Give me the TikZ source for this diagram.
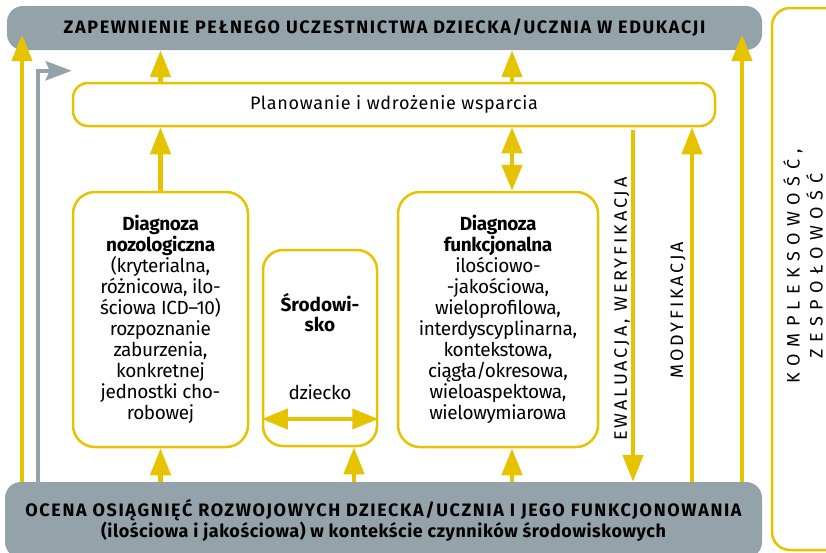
\documentclass[tikz,border=0pt]{standalone}
\usepackage{fontspec}
\setmainfont{Fira Sans}
\usepackage{tikz}
\usetikzlibrary{arrows.meta,calc,positioning}
\definecolor{zolty}{HTML}{E6C300}
\definecolor{szary}{HTML}{94A2AA}
\tikzset{
  pasek/.style={fill=szary, rounded corners=16pt, inner sep=0pt, align=center,
    font=\addfontfeature{LetterSpace=9}\fontsize{18}{21}\selectfont\bfseries},
  ramka/.style={draw=zolty, line width=2.5pt, rounded corners=22pt, inner sep=0pt,
    align=center, font=\addfontfeature{LetterSpace=-2}\fontsize{19}{21}\selectfont},
  opis/.style={rotate=90, inner sep=0pt, align=center,
    font=\addfontfeature{LetterSpace=16}\fontsize{18}{23}\selectfont},
  strz/.style={draw=zolty, line width=4.5pt, -{Triangle[width=20pt,length=27pt]}},
  dwustr/.style={draw=zolty, line width=4.5pt,
    {Triangle[width=20pt,length=26pt]}-{Triangle[width=20pt,length=26pt]}},
  szarastr/.style={draw=szary, line width=4.5pt,
    -{Stealth[width=19pt,length=26pt,inset=4pt]}}
}
\begin{document}
\begin{tikzpicture}[x=1pt,y=-1pt]
\useasboundingbox (0,0) rectangle (826,552);
% x-positions of the vertical arrows
\coordinate (xl) at (22,0);   % yellow, far left
\coordinate (xs) at (38,0);   % gray, far left
\coordinate (xsr) at (354,0); % into the middle box
\coordinate (xf) at (512,0);  % functional diagnosis
\coordinate (xm) at (692,0);  % modification
\coordinate (xp) at (742,0);  % yellow, far right
\coordinate (ew) at (633,130); % start of the evaluation line
% bars:
\node[pasek, minimum width=755pt, minimum height=44pt] (zap) at (384.5,28)
  {ZAPEWNIENIE PEŁNEGO UCZESTNICTWA DZIECKA/UCZNIA W EDUKACJI};
\node[pasek, minimum width=757pt, minimum height=76pt] (ocena) at (383.5,520)
  {OCENA OSIĄGNIĘĆ ROZWOJOWYCH DZIECKA/UCZNIA I JEGO FUNKCJONOWANIA\\
   \addfontfeature{LetterSpace=3}(ilościowa i jakościowa) w kontekście czynników środowiskowych};
% boxes:
\node[ramka, rounded corners=15pt, minimum width=642pt, minimum height=43pt,
  font=\addfontfeature{LetterSpace=4}\fontsize{18}{21}\selectfont] (plan)
  at (394,104.5) {Planowanie i wdrożenie wsparcia};
\node[ramka, minimum width=175pt, minimum height=255pt] (noz) at (160.5,319.5)
  {\textbf{Diagnoza}\\ \textbf{nozologiczna}\\ (kryterialna,\\ różnicowa, ilo-\\
   ściowa ICD–10)\\ rozpoznanie\\ zaburzenia,\\ konkretnej\\ jednostki cho-\\ robowej};
\node[ramka, rounded corners=20pt, minimum width=114pt, minimum height=196pt] (srod)
  at (320,348) {};
\node[ramka, draw=none, font=\fontsize{19}{20}\selectfont\bfseries] (srodtxt)
  at (320,313) {Środowi-\\sko};
\node[ramka, draw=none] (dziecko) at (320,392) {dziecko};
\node[ramka, minimum width=200pt, minimum height=255pt] (funk) at (498,319.5)
  {\textbf{Diagnoza}\\ \textbf{funkcjonalna}\\ ilościowo-\\ -jakościowa,\\
   wieloprofilowa,\\ interdyscyplinarna,\\ kontekstowa,\\ ciągła/okresowa,\\
   wieloaspektowa,\\ wielowymiarowa};
\node[ramka, rounded corners=18pt, minimum width=80pt, minimum height=542pt] (kompl)
  at (812,279) {};
% side labels:
\node[opis, font=\addfontfeature{LetterSpace=36}\fontsize{18}{23}\selectfont]
  (komptxt) at (803,266) {KOMPLEKSOWOŚĆ,\\ ZESPOŁOWOŚĆ};
\node[opis, anchor=south] (ewtxt) at (630,309) {EWALUACJA, WERYFIKACJA};
\node[opis] (modtxt) at (678,310) {MODYFIKACJA};
% arrows up:
\draw[strz] (ocena.north -| noz.south) -- (noz.south);
\draw[strz] (ocena.north -| xsr) -- (srod.south -| xsr);
\draw[strz] (ocena.north -| xf) -- (funk.south -| xf);
\draw[strz] (noz.north) -- (plan.south -| noz.north);
\draw[strz] (plan.north -| noz.north) -- (zap.south -| noz.north);
\draw[strz] (plan.north -| xf) -- (zap.south -| xf);
\draw[dwustr] (plan.south -| xf) -- (funk.north -| xf);
\draw[strz] (ocena.north -| xm) -- (plan.south -| xm);
\draw[strz] (ew) -- (ocena.north -| ew);
\draw[strz] (ocena.north -| xl) -- ($(zap.south -| xl)+(0,-16)$);
\draw[strz] (ocena.north -| xp) -- ($(zap.south -| xp)+(0,-16)$);
\draw[szarastr] (ocena.north -| xs) |- ($(plan.north west)+(0,-11)$);
% child and environment:
\draw[dwustr, line width=4pt] ($(srod.west)+(0,71)$) -- ($(srod.east)+(0,71)$);
\end{tikzpicture}
\end{document}
